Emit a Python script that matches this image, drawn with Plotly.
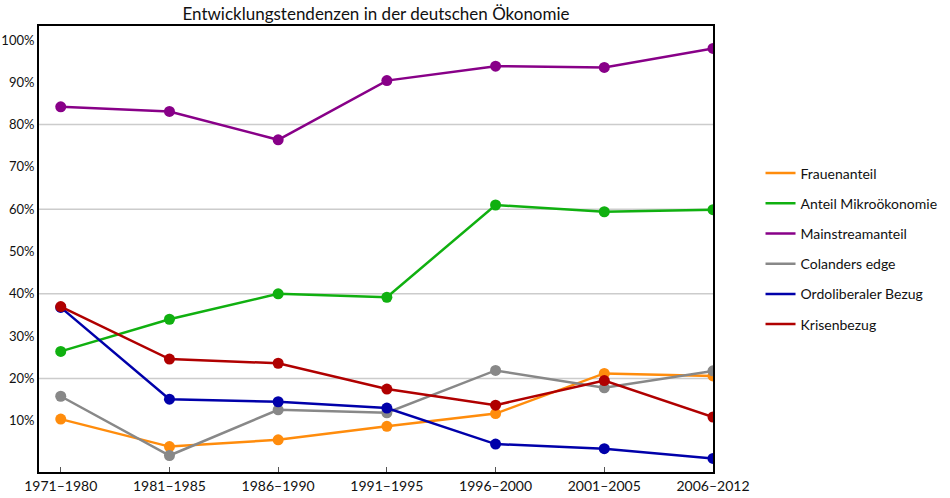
import plotly.graph_objects as go

categories = ["1971–1980", "1981–1985", "1986–1990", "1991–1995", "1996–2000", "2001–2005", "2006–2012"]

frauenanteil = [10.4, 3.9, 5.5, 8.7, 11.7, 21.2, 20.6]
anteil_mikro = [26.4, 34.0, 40.0, 39.2, 61.0, 59.4, 59.9]
mainstream = [84.2, 83.1, 76.4, 90.4, 93.8, 93.5, 98.0]
colanders = [15.8, 1.8, 12.6, 11.9, 21.9, 17.8, 21.8]
ordoliberal = [36.8, 15.1, 14.5, 13.0, 4.5, 3.4, 1.1]
krisenbezug = [37.0, 24.6, 23.6, 17.5, 13.7, 19.5, 10.9]

series_names = ["Frauenanteil", "Anteil Mikroökonomie", "Mainstreamanteil",
                "Colanders edge", "Ordoliberaler Bezug", "Krisenbezug"]
series_values = [frauenanteil, anteil_mikro, mainstream, colanders, ordoliberal, krisenbezug]
series_colors = ["#ff8c0c", "#10b010", "#880088", "#888888", "#0000aa", "#b00000"]

y_tick_values = [10, 20, 30, 40, 50, 60, 70, 80, 90, 100]
grid_values = [20, 40, 60, 80]

FONT = "Lato"

fig = go.Figure()
for name, vals, col in zip(series_names, series_values, series_colors):
    fig.add_trace(go.Scatter(
        x=categories, y=vals, mode="lines+markers", name=name,
        line=dict(color=col, width=2.5),
        marker=dict(color=col, size=11),
        showlegend=False,
    ))
for i, (name, col) in enumerate(zip(series_names, series_colors)):
    fig.add_trace(go.Scatter(
        x=[None], y=[None], mode="lines", name=name,
        line=dict(color=col, width=2.5),
        legendgroup="g%d" % i, showlegend=True,
    ))

for g in grid_values:
    fig.add_shape(type="line", xref="paper", x0=0, x1=1, yref="y", y0=g, y1=g,
                  line=dict(color="#cccccc", width=1.5), layer="below")

fig.update_layout(
    width=950, height=498,
    margin=dict(l=39, r=237, t=26, b=26, autoexpand=False),
    paper_bgcolor="white", plot_bgcolor="white",
    font=dict(family=FONT, size=14, color="#111111"),
    title=dict(text="Entwicklungstendenzen in der deutschen Ökonomie",
               x=0.5, xref="paper", xanchor="center",
               y=0.972, yref="container", yanchor="middle",
               font=dict(family=FONT, size=17, color="#111111")),
    legend=dict(x=1.0705, xanchor="left", y=0.5, yanchor="middle",
                font=dict(family=FONT, size=14, color="#111111"),
                tracegroupgap=9, bgcolor="rgba(0,0,0,0)"),
    showlegend=True,
)
fig.update_xaxes(
    type="category", range=[-0.2, 6.0], automargin=False,
    showline=True, mirror=True, linecolor="black", linewidth=2,
    showgrid=False, zeroline=False,
    ticks="inside", ticklen=5, tickcolor="#555555", tickwidth=1,
    tickfont=dict(family=FONT, size=14, color="#111111"),
)
fig.update_yaxes(
    range=[-2.1, 103.3], automargin=False,
    tickvals=y_tick_values, ticktext=["%d%%" % v for v in y_tick_values],
    showline=True, mirror=True, linecolor="black", linewidth=2,
    showgrid=False, zeroline=False, ticks="",
    tickfont=dict(family=FONT, size=13, color="#111111"),
)

fig.write_html("out.html", config={"displayModeBar": False},
               post_script="document.body.style.margin='0px';")
